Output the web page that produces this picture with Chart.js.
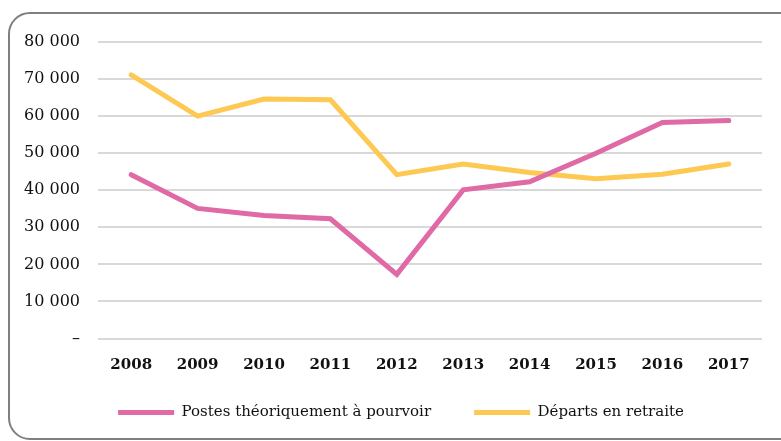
<!DOCTYPE html>
<html>
<head>
<meta charset="utf-8">
<script src="https://cdn.jsdelivr.net/npm/chart.js@4/dist/chart.umd.min.js"></script>
<style>
    html, body { margin: 0; padding: 0; background: #fff; }
    #wrap { position: relative; width: 781px; height: 441px; overflow: hidden; }
    #frame {
        position: absolute; left: 8px; top: 12px; width: 790px; height: 424px;
        border: 2px solid #7f7f7f; border-radius: 22px;
    }
    #myChart { position: absolute; left: 0; top: 0; }
</style>
</head>
<body>
<div id="wrap">
    <div id="frame"></div>
    <canvas id="myChart" width="781" height="441"></canvas>
</div>
<script>
'use strict';

// Years on the x axis
const years = ['2008', '2009', '2010', '2011', '2012', '2013', '2014', '2015', '2016', '2017'];

// Values
const postes = [44200, 35100, 33200, 32300, 17300, 40100, 42300, 50000, 58300, 58800];
const departs = [71100, 60000, 64600, 64400, 44200, 47100, 44800, 43100, 44300, 47100];

// y tick labels, from 0 to 80 000
const yTickLabels = ['–', '10 000', '20 000', '30 000', '40 000', '50 000', '60 000', '70 000', '80 000'];

const serif = "'DejaVu Serif', serif";

// The x axis is kept short so the legend fits below it; widen its box
// after layout so the year labels are not clipped, and nudge the legend right
const fixLayout = {
    id: 'fixLayout',
    afterLayout: function (chart) {
        const x = chart.scales.x;
        x.bottom = x.top + 40;
        x.height = 40;
        chart.legend.left += 20;
        chart.legend.right += 20;
    }
};

function createChart() {
    const ctx = document.getElementById('myChart').getContext('2d');

    new Chart(ctx, {
        type: 'line',
        data: {
            labels: years,
            datasets: [{
                label: 'Postes théoriquement à pourvoir',
                data: postes,
                borderColor: '#df6aa6',
                backgroundColor: '#df6aa6',
                borderWidth: 5,
                borderCapStyle: 'round',
                pointRadius: 0,
                tension: 0
            }, {
                label: 'Départs en retraite',
                data: departs,
                borderColor: '#fdc953',
                backgroundColor: '#fdc953',
                borderWidth: 5,
                borderCapStyle: 'round',
                pointRadius: 0,
                tension: 0
            }]
        },
        plugins: [fixLayout],
        options: {
            responsive: false,
            animation: false,
            layout: { padding: { top: 42, right: 19, bottom: 11, left: 0 } },
            plugins: {
                tooltip: { enabled: false },
                legend: {
                    position: 'bottom',
                    labels: {
                        usePointStyle: true,
                        pointStyle: 'line',
                        pointStyleWidth: 56,
                        padding: 43,
                        color: '#111',
                        font: { family: serif, size: 15 }
                    }
                }
            },
            scales: {
                x: {
                    offset: true,
                    grid: { display: false },
                    border: { display: false },
                    ticks: {
                        padding: 10,
                        color: '#111',
                        font: { family: serif, size: 15, weight: 'bold' }
                    },
                    afterFit: function (scale) { scale.height = 23.5; }
                },
                y: {
                    min: 0,
                    max: 80000,
                    border: { display: false },
                    grid: { color: '#d9d9d9', lineWidth: 2, drawTicks: false },
                    ticks: {
                        stepSize: 10000,
                        padding: 18,
                        color: '#111',
                        font: { family: serif, size: 16 },
                        callback: function (value, index) { return yTickLabels[index]; }
                    },
                    afterFit: function (scale) { scale.width = 98; }
                }
            }
        }
    });
}

window.onload = createChart;
</script>
</body>
</html>
